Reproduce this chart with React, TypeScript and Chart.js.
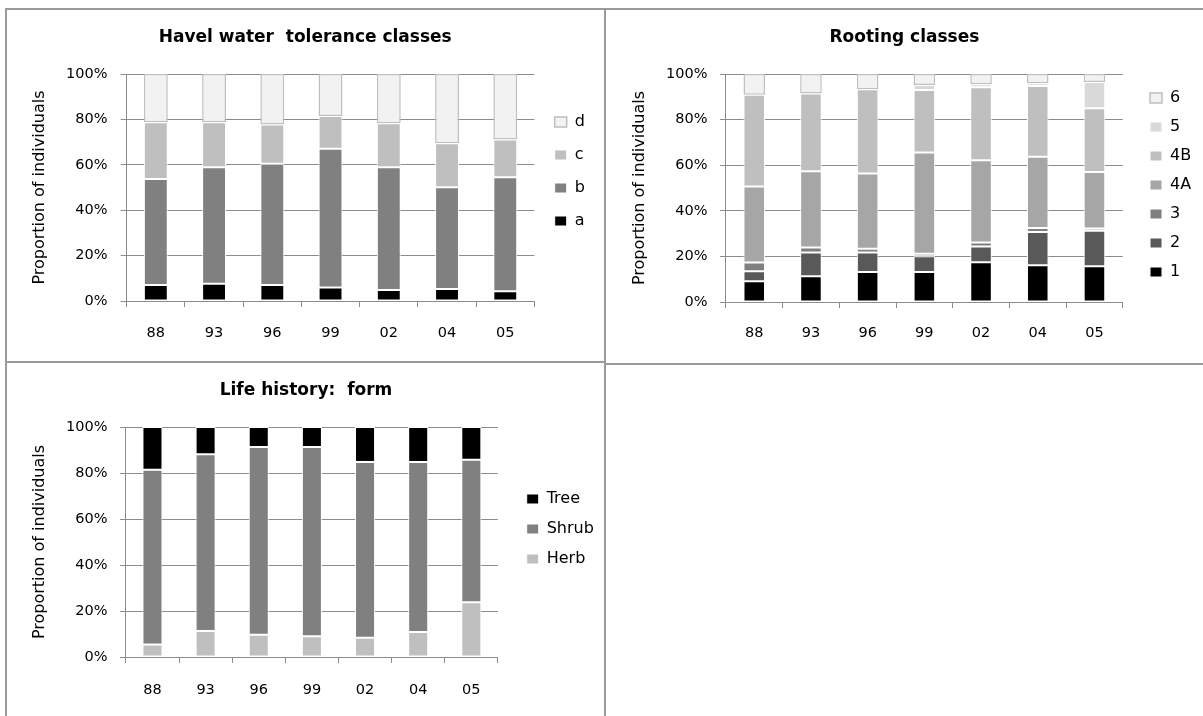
import React, { useEffect, useRef } from 'react';
import { Chart, registerables } from 'chart.js';
Chart.register(...registerables);

// ---------- data ----------
const YEARS = ['88', '93', '96', '99', '02', '04', '05'];
const Y_MIN = 0;
const Y_MAX = 100;
const Y_STEP = 20;

// Havel water tolerance classes (% of individuals)
const HAVEL_A = [7.0, 7.6, 7.0, 6.0, 4.8, 5.3, 4.3];
const HAVEL_B = [46.7, 51.3, 53.5, 61.1, 54.1, 44.8, 50.2];
const HAVEL_C = [25.0, 19.8, 17.2, 14.4, 19.4, 19.4, 16.6];
const HAVEL_D = [21.3, 21.3, 22.3, 18.5, 21.7, 30.5, 28.9];

// Rooting classes (% of individuals)
const ROOT_1 = [9.1, 11.3, 13.2, 13.2, 17.4, 16.1, 15.7];
const ROOT_2 = [4.4, 10.4, 8.5, 6.9, 6.9, 14.6, 15.5];
const ROOT_3 = [3.8, 2.2, 1.7, 1.1, 1.8, 1.8, 1.0];
const ROOT_4A = [33.4, 33.4, 33.0, 44.4, 36.1, 31.2, 24.8];
const ROOT_4B = [40.2, 34.2, 36.9, 27.4, 32.0, 31.0, 28.0];
const ROOT_5 = [0, 0, 0, 2.2, 1.3, 1.2, 11.5];
const ROOT_6 = [9.1, 8.5, 6.7, 4.8, 4.5, 4.1, 3.5];

// Life history: form (% of individuals)
const LIFE_HERB = [5.4, 11.3, 9.7, 9.0, 8.4, 10.9, 23.8];
const LIFE_SHRUB = [76.0, 76.8, 81.6, 82.3, 76.4, 73.9, 62.0];
const LIFE_TREE = [18.6, 11.9, 8.7, 8.7, 15.2, 15.2, 14.2];

// ---------- styling ----------
const FONT = '"DejaVu Sans", sans-serif';
const AXIS_GRAY = '#8c8c8c';
const BORDER_GRAY = '#9a9a9a';
const TICK_SIZE = 14.5;
const LEGEND_SIZE = 16;
const TITLE_SIZE = 17;
const YTITLE_SIZE = 16;
const BOX_W = 12;
const BOX_H = 10;

function ds(label: string, data: number[], color: string, light = false) {
  return {
    label,
    data,
    backgroundColor: color,
    borderColor: light ? '#bfbfbf' : '#ffffff',
    borderWidth: light ? 1.5 : 1,
    borderSkipped: false as const,
  };
}

const placePlugin = {
  id: 'place',
  afterLayout(chart: any, _args: any, opts: any) {
    const t = chart.titleBlock;
    if (t && opts.titleX != null) {
      const w = t.right - t.left;
      t.left = opts.titleX - w / 2;
      t.right = t.left + w;
    }
    const lg = chart.legend;
    if (lg && opts.legendX != null) {
      const pad = lg.options.labels.padding;
      const w = lg.width;
      lg.left = opts.legendX - pad;
      lg.right = lg.left + w;
      lg.top = opts.legendY - LEGEND_SIZE / 2 - pad;
      lg.bottom = chart.height;
    }
  },
};

type Layout = {
  left: number; top: number; width: number; height: number;
  title: string;
  yWidth: number; xHeight: number; chartRight: number;
  titlePadTop: number; titlePadBottom: number;
  yTitlePad: number; yTickPad: number; xTickPad: number;
  barPct: number; legendPad: number;
  titleX: number; legendX: number; legendY: number;
};

function StackChart({ lay, datasets }: { lay: Layout; datasets: any[] }) {
  const ref = useRef<HTMLCanvasElement | null>(null);
  useEffect(() => {
    if (!ref.current) return;
    // natural legend width (as Chart.js computes it) so the plot area ends where wanted
    const mctx = document.createElement('canvas').getContext('2d')!;
    mctx.font = `normal ${LEGEND_SIZE}px ${FONT}`;
    const maxText = Math.max(...datasets.map((d) => mctx.measureText(d.label).width));
    const legendW = lay.legendPad + BOX_W + LEGEND_SIZE / 2 + maxText + 10;
    const padRight = Math.max(0, lay.width - lay.chartRight - legendW);

    const chart = new Chart(ref.current, {
      type: 'bar',
      data: {
        labels: YEARS,
        datasets: datasets.map((d) => ({ ...d, barPercentage: lay.barPct, categoryPercentage: 1 })),
      },
      plugins: [placePlugin],
      options: {
        responsive: false,
        animation: false,
        layout: { padding: { left: 0, top: 0, bottom: 0, right: padRight } },
        plugins: {
          tooltip: { enabled: false },
          title: {
            display: true,
            text: lay.title,
            color: '#000',
            font: { family: FONT, size: TITLE_SIZE, weight: 'bold' },
            padding: { top: lay.titlePadTop, bottom: lay.titlePadBottom },
          },
          legend: {
            display: true,
            position: 'right',
            align: 'start',
            reverse: true,
            labels: {
              color: '#000',
              font: { family: FONT, size: LEGEND_SIZE },
              boxWidth: BOX_W,
              boxHeight: BOX_H,
              padding: lay.legendPad,
              textAlign: 'left',
            },
          },
          place: { titleX: lay.titleX, legendX: lay.legendX, legendY: lay.legendY },
        } as any,
        scales: {
          x: {
            stacked: true,
            grid: {
              display: true,
              drawOnChartArea: false,
              drawTicks: true,
              tickLength: 6,
              color: AXIS_GRAY,
              offset: true,
            },
            border: { display: true, color: AXIS_GRAY, width: 1 },
            ticks: { color: '#000', font: { family: FONT, size: TICK_SIZE }, padding: lay.xTickPad, maxRotation: 0 },
            afterFit: (s: any) => { s.height = lay.xHeight; },
          },
          y: {
            stacked: true,
            min: Y_MIN,
            max: Y_MAX,
            grid: { color: AXIS_GRAY, drawTicks: true, tickLength: 6, lineWidth: 1 },
            border: { display: true, color: AXIS_GRAY, width: 1 },
            ticks: {
              stepSize: Y_STEP,
              color: '#000',
              font: { family: FONT, size: TICK_SIZE },
              padding: lay.yTickPad,
              callback: (v: any) => `${v}%`,
            },
            title: {
              display: true,
              text: 'Proportion of individuals',
              color: '#000',
              font: { family: FONT, size: YTITLE_SIZE },
              padding: { top: lay.yTitlePad, bottom: 0 },
            },
            afterFit: (s: any) => { s.width = lay.yWidth; },
          },
        },
      } as any,
    });
    return () => chart.destroy();
  }, []);
  return (
    <canvas
      ref={ref}
      width={lay.width}
      height={lay.height}
      style={{ position: 'absolute', left: lay.left, top: lay.top, width: lay.width, height: lay.height }}
    />
  );
}

const TL: Layout = {
  left: 8, top: 11, width: 595, height: 349,
  title: 'Havel water  tolerance classes',
  yWidth: 118.7, xHeight: 59, chartRight: 526.4,
  titlePadTop: 16.8, titlePadBottom: 25.8,
  yTitlePad: 22.7, yTickPad: 13.2, xTickPad: 17.3,
  barPct: 0.41, legendPad: 17,
  titleX: 297.2, legendX: 546.7, legendY: 111,
};

const TR: Layout = {
  left: 607, top: 12, width: 595, height: 350,
  title: 'Rooting classes',
  yWidth: 118.9, xHeight: 60, chartRight: 515.8,
  titlePadTop: 15.8, titlePadBottom: 25.8,
  yTitlePad: 23.7, yTickPad: 12.4, xTickPad: 16.3,
  barPct: 0.38, legendPad: 13,
  titleX: 297.4, legendX: 543, legendY: 86,
};

const BL: Layout = {
  left: 8, top: 364, width: 595, height: 352,
  title: 'Life history:  form',
  yWidth: 117.9, xHeight: 59, chartRight: 489.9,
  titlePadTop: 16.8, titlePadBottom: 25.8,
  yTitlePad: 22.7, yTickPad: 12.4, xTickPad: 18.3,
  barPct: 0.377, legendPad: 14,
  titleX: 298, legendX: 518.7, legendY: 135,
};

const line = (l: number, t: number, w: number, h: number): React.CSSProperties => ({
  position: 'absolute', left: l, top: t, width: w, height: h, background: BORDER_GRAY,
});

export default function App() {
  const havel = [
    ds('a', HAVEL_A, '#000000'),
    ds('b', HAVEL_B, '#808080'),
    ds('c', HAVEL_C, '#bfbfbf'),
    ds('d', HAVEL_D, '#f2f2f2', true),
  ];
  const rooting = [
    ds('1', ROOT_1, '#000000'),
    ds('2', ROOT_2, '#595959'),
    ds('3', ROOT_3, '#7f7f7f'),
    ds('4A', ROOT_4A, '#a6a6a6'),
    ds('4B', ROOT_4B, '#bfbfbf'),
    ds('5', ROOT_5, '#d9d9d9'),
    ds('6', ROOT_6, '#f2f2f2', true),
  ];
  const life = [
    ds('Herb', LIFE_HERB, '#bfbfbf'),
    ds('Shrub', LIFE_SHRUB, '#808080'),
    ds('Tree', LIFE_TREE, '#000000'),
  ];
  return (
    <div style={{ position: 'absolute', left: 0, top: 0, width: 1203, height: 716, background: '#fff', overflow: 'hidden' }}>
      <div style={line(5, 8, 1198, 2)} />
      <div style={line(5, 8, 2, 708)} />
      <div style={line(604, 8, 2, 708)} />
      <div style={line(5, 361, 600, 2)} />
      <div style={line(605, 363, 598, 2)} />
      <StackChart lay={TL} datasets={havel} />
      <StackChart lay={TR} datasets={rooting} />
      <StackChart lay={BL} datasets={life} />
    </div>
  );
}
